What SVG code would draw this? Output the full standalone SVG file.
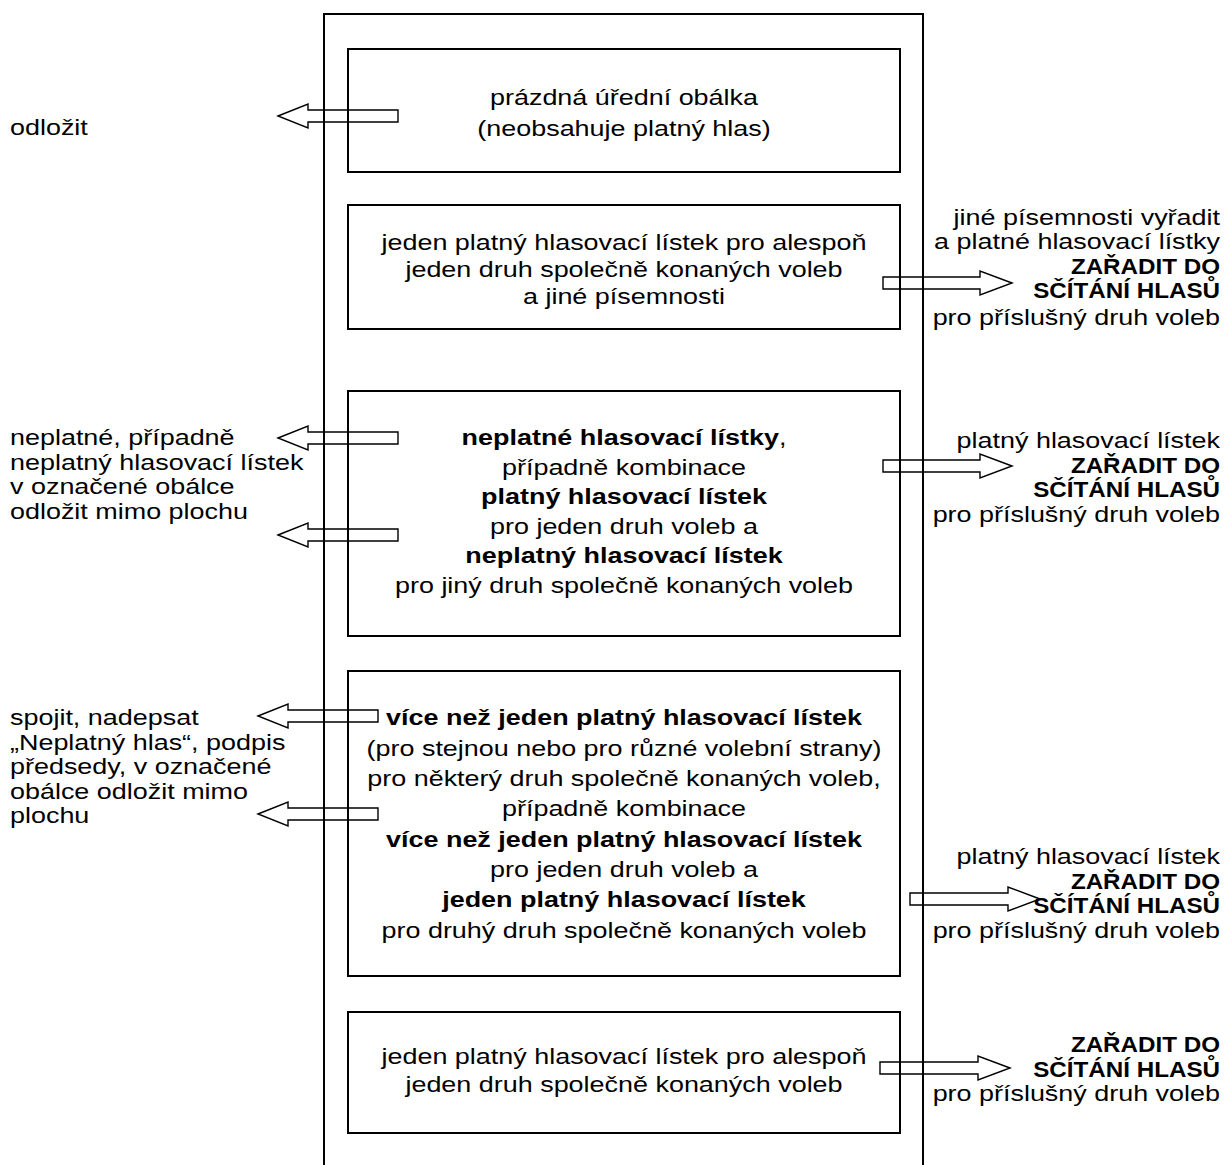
<svg xmlns="http://www.w3.org/2000/svg" width="1226" height="1165" viewBox="0 0 1226 1165">
<style>
text{font-family:"Liberation Sans",Arial,sans-serif;font-size:22px;fill:#000}
.c{text-anchor:middle}
.r{text-anchor:end}
.b{font-weight:bold}
.box{fill:none;stroke:#000;stroke-width:2}
.arr{fill:none;stroke:#000;stroke-width:1.4;stroke-linejoin:miter}
</style>
<rect width="1226" height="1165" fill="#fff"/>
<g id="connectors">
<path class="arr" d="M278,116 L308,104 L308,110 L398,110 L398,122 L308,122 L308,128 Z"/>
<path class="arr" d="M278,438 L308,426 L308,432 L398,432 L398,444 L308,444 L308,450 Z"/>
<path class="arr" d="M278,535 L308,523 L308,529 L398,529 L398,541 L308,541 L308,547 Z"/>
<path class="arr" d="M258,716 L288,704 L288,710 L378,710 L378,722 L288,722 L288,728 Z"/>
<path class="arr" d="M258,814 L288,802 L288,808 L378,808 L378,820 L288,820 L288,826 Z"/>
<path class="arr" d="M1012,283 L980,271 L980,277 L883,277 L883,289 L980,289 L980,295 Z"/>
<path class="arr" d="M1012,466 L980,454 L980,460 L883,460 L883,472 L980,472 L980,478 Z"/>
<path class="arr" d="M1040,899 L1008,887 L1008,893 L910,893 L910,905 L1008,905 L1008,911 Z"/>
<path class="arr" d="M1010,1068 L978,1056 L978,1062 L880,1062 L880,1074 L978,1074 L978,1080 Z"/>
</g>
<g id="frame"><path class="box" d="M324,1165 V14 H923 V1165"/></g>
<g id="box1">
<rect class="box" x="348" y="49" width="552" height="123"/>
<g transform="translate(624,0) scale(1.225,1)">
<text class="c" x="0" y="105">prázdná úřední obálka</text>
<text class="c" x="0" y="136">(neobsahuje platný hlas)</text>
</g>
</g>
<g id="box2">
<rect class="box" x="348" y="205" width="552" height="124"/>
<g transform="translate(624,0) scale(1.225,1)">
<text class="c" x="0" y="250.5">jeden platný hlasovací lístek pro alespoň</text>
<text class="c" x="0" y="277.5">jeden druh společně konaných voleb</text>
<text class="c" x="0" y="304.5">a jiné písemnosti</text>
</g>
</g>
<g id="box3">
<rect class="box" x="348" y="391" width="552" height="245"/>
<g transform="translate(624,0) scale(1.225,1)">
<text class="c" x="0" y="445.5"><tspan class="b">neplatné hlasovací lístky</tspan>,</text>
<text class="c" x="0" y="475">případně kombinace</text>
<text class="c b" x="0" y="504.5">platný hlasovací lístek</text>
<text class="c" x="0" y="534">pro jeden druh voleb a</text>
<text class="c b" x="0" y="563.5">neplatný hlasovací lístek</text>
<text class="c" x="0" y="593">pro jiný druh společně konaných voleb</text>
</g>
</g>
<g id="box4">
<rect class="box" x="348" y="671" width="552" height="305"/>
<g transform="translate(624,0) scale(1.225,1)">
<text class="c b" x="0" y="725.5">více než jeden platný hlasovací lístek</text>
<text class="c" x="0" y="756">(pro stejnou nebo pro různé volební strany)</text>
<text class="c" x="0" y="786.5">pro některý druh společně konaných voleb,</text>
<text class="c" x="0" y="816.5">případně kombinace</text>
<text class="c b" x="0" y="847.5">více než jeden platný hlasovací lístek</text>
<text class="c" x="0" y="877.5">pro jeden druh voleb a</text>
<text class="c b" x="0" y="907.5">jeden platný hlasovací lístek</text>
<text class="c" x="0" y="938.5">pro druhý druh společně konaných voleb</text>
</g>
</g>
<g id="box5">
<rect class="box" x="348" y="1012" width="552" height="121"/>
<g transform="translate(624,0) scale(1.225,1)">
<text class="c" x="0" y="1064.5">jeden platný hlasovací lístek pro alespoň</text>
<text class="c" x="0" y="1092.5">jeden druh společně konaných voleb</text>
</g>
</g>
<g id="left1"><g transform="translate(10,0) scale(1.225,1)"><text x="0" y="135.5">odložit</text></g></g>
<g id="left3"><g transform="translate(10,0) scale(1.225,1)">
<text x="0" y="445.5">neplatné, případně</text>
<text x="0" y="470">neplatný hlasovací lístek</text>
<text x="0" y="494.5">v označené obálce</text>
<text x="0" y="519">odložit mimo plochu</text>
</g></g>
<g id="left4"><g transform="translate(10,0) scale(1.225,1)">
<text x="0" y="725.5">spojit, nadepsat</text>
<text x="0" y="750">„Neplatný hlas“, podpis</text>
<text x="0" y="774.5">předsedy, v označené</text>
<text x="0" y="799">obálce odložit mimo</text>
<text x="0" y="823.5">plochu</text>
</g></g>
<g id="right2">
<g transform="translate(1220,0) scale(1.225,1)">
<text class="r" x="0" y="225.5">jiné písemnosti vyřadit</text>
<text class="r" x="0" y="249.5">a platné hlasovací lístky</text>
<text class="r" x="0" y="325.5">pro příslušný druh voleb</text>
</g>
<g transform="translate(1220,0) scale(1.1,1)">
<text class="r b" x="0" y="274.5">ZAŘADIT DO</text>
<text class="r b" x="0" y="298.5">SČÍTÁNÍ HLASŮ</text>
</g>
</g>
<g id="right3">
<g transform="translate(1220,0) scale(1.225,1)">
<text class="r" x="0" y="448.5">platný hlasovací lístek</text>
<text class="r" x="0" y="522.5">pro příslušný druh voleb</text>
</g>
<g transform="translate(1220,0) scale(1.1,1)">
<text class="r b" x="0" y="473.5">ZAŘADIT DO</text>
<text class="r b" x="0" y="497.5">SČÍTÁNÍ HLASŮ</text>
</g>
</g>
<g id="right4">
<g transform="translate(1220,0) scale(1.225,1)">
<text class="r" x="0" y="864.5">platný hlasovací lístek</text>
<text class="r" x="0" y="938.5">pro příslušný druh voleb</text>
</g>
<g transform="translate(1220,0) scale(1.1,1)">
<text class="r b" x="0" y="889.5">ZAŘADIT DO</text>
<text class="r b" x="0" y="913.5">SČÍTÁNÍ HLASŮ</text>
</g>
</g>
<g id="right5">
<g transform="translate(1220,0) scale(1.225,1)">
<text class="r" x="0" y="1101.5">pro příslušný druh voleb</text>
</g>
<g transform="translate(1220,0) scale(1.1,1)">
<text class="r b" x="0" y="1052.5">ZAŘADIT DO</text>
<text class="r b" x="0" y="1077.5">SČÍTÁNÍ HLASŮ</text>
</g>
</g>
</svg>
